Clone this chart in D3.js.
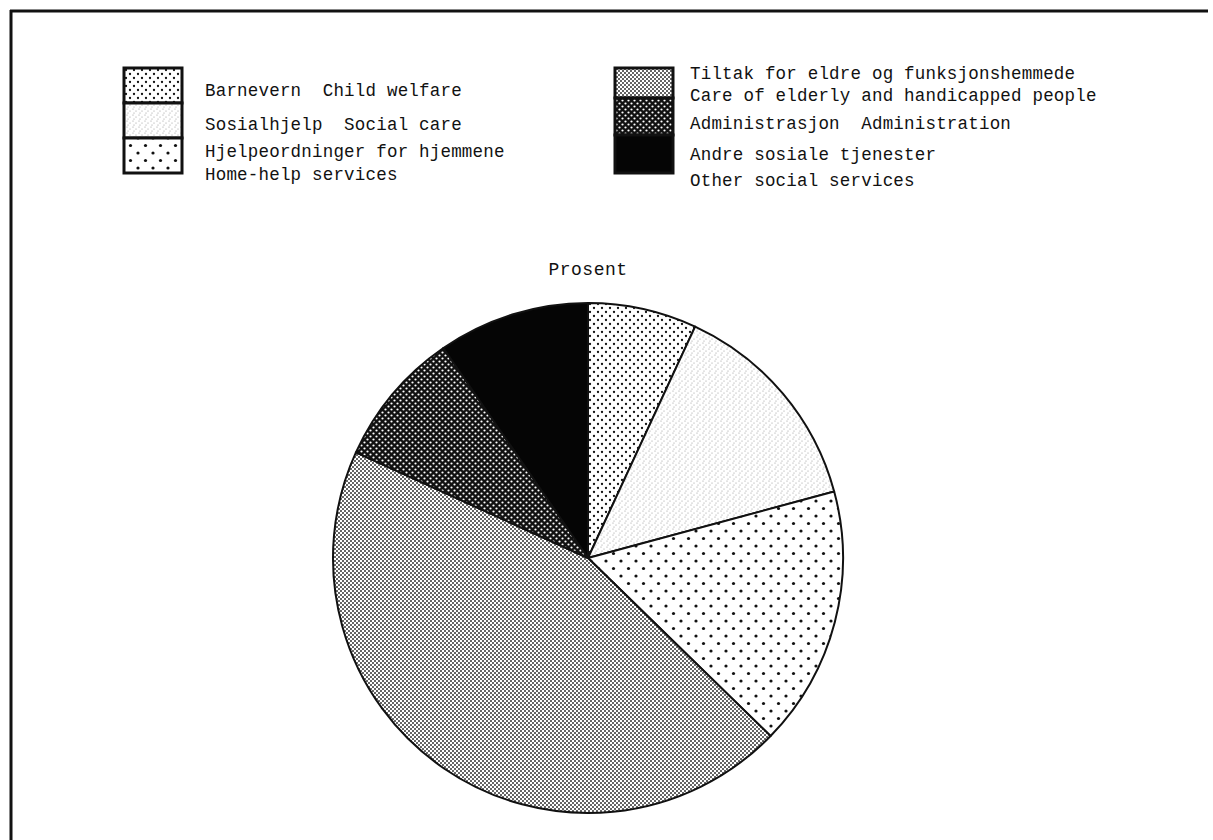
<!DOCTYPE html>
<html>
<head>
<meta charset="utf-8">
<script src="https://cdn.jsdelivr.net/npm/d3@7"></script>
<style>
  body { margin: 0; background: #fff; }
  text { font-family: 'Liberation Mono', 'DejaVu Sans Mono', monospace; fill: #111; }
</style>
</head>
<body>
<div id="chart"></div>
<script>
const width = 1213,
height = 840;

// slice data, clockwise from 12 o'clock
const categories = ['Barnevern', 'Sosialhjelp', 'Hjelpeordninger for hjemmene',
'Tiltak for eldre og funksjonshemmede', 'Administrasjon', 'Andre sosiale tjenester'];
const englishNames = ['Child welfare', 'Social care', 'Home-help services',
'Care of elderly and handicapped people', 'Administration', 'Other social services'];
const values = [6.9, 13.9, 16.5, 44.5, 8.6, 9.6];
const patternIds = ['pBarn', 'pSos', 'pHjelp', 'pEldre', 'pAdm', 'pAndre'];

// which items print Norwegian + English on one line
const oneLine = [true, true, false, false, true, false];

const svg = d3.select('#chart').
append('svg').
attr('width', width).
attr('height', height);

svg.append('rect').attr('width', width).attr('height', height).attr('fill', '#fff');

// ---- fill patterns (greyscale halftones)
const defs = svg.append('defs');

function dotPattern(id, size, bg, fg, dots, r) {
  const p = defs.append('pattern').
  attr('id', id).
  attr('patternUnits', 'userSpaceOnUse').
  attr('width', size).
  attr('height', size);
  p.append('rect').attr('width', size).attr('height', size).attr('fill', bg);
  dots.forEach(d => p.append('circle').attr('cx', d[0]).attr('cy', d[1]).attr('r', r).attr('fill', fg));
}

dotPattern('pBarn', 8, '#fff', '#111', [[2, 2], [6, 6]], 1.15);
dotPattern('pSos', 6, '#fff', '#9a9a9a', [[1, 1], [4, 3], [2, 5]], 0.6);
dotPattern('pHjelp', 15, '#fff', '#111', [[3, 3], [10.5, 10.5]], 1.6);
dotPattern('pEldre', 4, '#fff', '#222', [[1, 1], [3, 3]], 0.95);
dotPattern('pAdm', 6, '#111', '#fff', [[1.5, 1.5], [4.5, 4.5]], 1.1);
defs.append('pattern').
attr('id', 'pAndre').
attr('patternUnits', 'userSpaceOnUse').
attr('width', 4).attr('height', 4).
append('rect').attr('width', 4).attr('height', 4).attr('fill', '#050505');

// ---- frame (top and left edges)
svg.append('line').attr('x1', 10).attr('y1', 11).attr('x2', 1208).attr('y2', 11).
attr('stroke', '#111').attr('stroke-width', 3);
svg.append('line').attr('x1', 11).attr('y1', 10).attr('x2', 11).attr('y2', height).
attr('stroke', '#111').attr('stroke-width', 3);

// ---- legend
const legendCols = [{ x: 124, text: 205, idx: [0, 1, 2], breaks: [68, 103, 138, 173] },
{ x: 615, text: 690, idx: [3, 4, 5], breaks: [68, 98, 135, 173] }];
const lineY = [[91], [125], [152, 175], [74, 96], [124], [155, 181]];

legendCols.forEach(col => {
  const g = svg.append('g').attr('class', 'legend');
  col.idx.forEach((k, i) => {
    g.append('rect').
    attr('x', col.x).
    attr('y', col.breaks[i]).
    attr('width', 58).
    attr('height', col.breaks[i + 1] - col.breaks[i]).
    attr('fill', `url(#${patternIds[k]})`).
    attr('stroke', '#111').
    attr('stroke-width', 3);

    const lines = oneLine[k] ? [categories[k] + '  ' + englishNames[k]] : [categories[k], englishNames[k]];
    lines.forEach((t, j) => {
      g.append('text').
      attr('x', col.text).
      attr('y', lineY[k][j]).
      attr('dominant-baseline', 'central').
      style('font-size', '17.5px').
      style('letter-spacing', '0.2px').
      style('white-space', 'pre').
      text(t);
    });
  });
});

// ---- pie
const cx = 588,
cy = 558,
radius = 255;

const pie = d3.pie().sort(null).value(d => d);
const arc = d3.arc().innerRadius(0).outerRadius(radius);

const pieG = svg.append('g').attr('transform', `translate(${cx},${cy})`);

pieG.selectAll('path').
data(pie(values)).
enter().
append('path').
attr('d', arc).
attr('fill', (d, i) => `url(#${patternIds[i]})`).
attr('stroke', '#111').
attr('stroke-width', 2).
attr('stroke-linejoin', 'round');

svg.append('text').
attr('x', cx).
attr('y', 270).
attr('text-anchor', 'middle').
attr('dominant-baseline', 'central').
style('font-size', '18px').
style('letter-spacing', '0.5px').
text('Prosent');
</script>
</body>
</html>
